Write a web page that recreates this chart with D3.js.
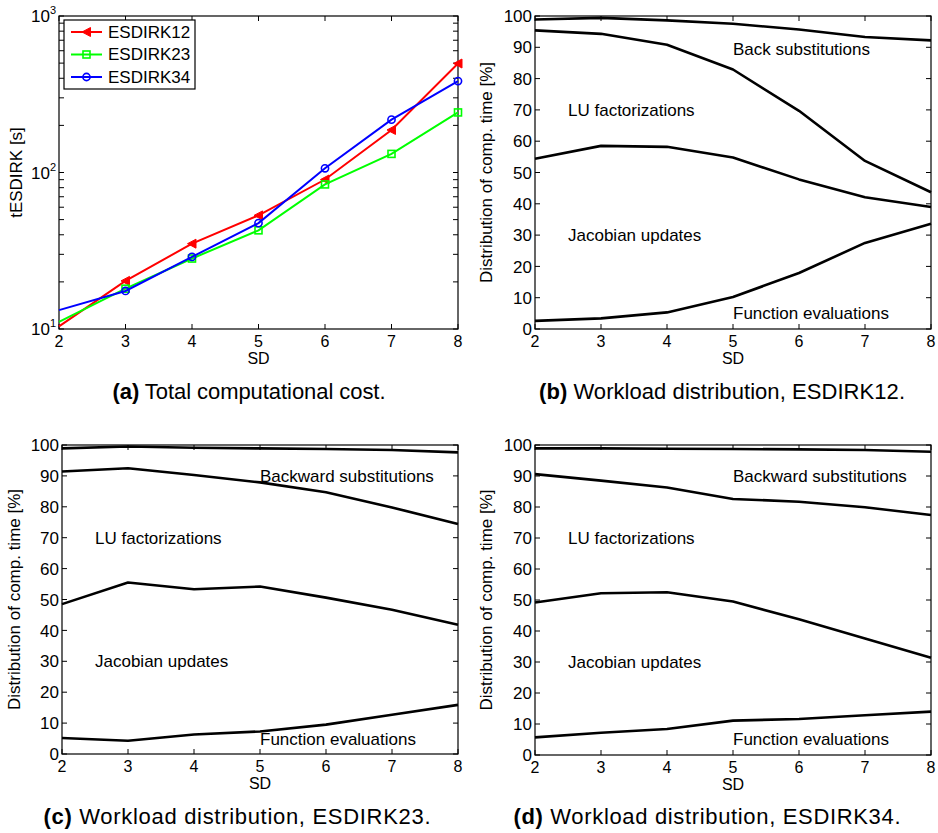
<!DOCTYPE html>
<html>
<head>
<meta charset="utf-8">
<script src="https://cdn.jsdelivr.net/npm/d3@7"></script>
<style>
  body { margin: 0; background: #fff; }
  text { font-family: "Liberation Sans", Arial, sans-serif; }
</style>
</head>
<body>
<svg id="fig" width="938" height="833"></svg>
<script>
const sdVals = [2, 3, 4, 5, 6, 7, 8];

// panel (a), total cost in seconds
const esdirk12 = [10.4, 20.3, 35.1, 53.2, 90.2, 187, 497];
const esdirk23 = [11.1, 18.1, 28.2, 42.7, 83.9, 131.5, 242];
const esdirk34 = [13.2, 17.5, 28.9, 47.5, 106.4, 217.6, 384];

// workload boundaries (cumulative %), bottom to top
const w12_fun = [2.6, 3.4, 5.3, 10.2, 17.9, 27.5, 33.6];
const w12_jac = [54.4, 58.5, 58.2, 54.8, 47.8, 42.1, 39.0];
const w12_lu = [95.4, 94.3, 90.8, 82.9, 69.7, 53.7, 43.7];
const w12_back = [98.9, 99.4, 98.6, 97.5, 95.7, 93.3, 92.2];

const w23_fun = [5.2, 4.3, 6.3, 7.3, 9.5, 12.7, 15.9];
const w23_jac = [48.5, 55.5, 53.3, 54.2, 50.6, 46.7, 41.8];
const w23_lu = [91.4, 92.5, 90.3, 87.9, 84.7, 79.8, 74.4];
const w23_back = [98.9, 99.5, 99.1, 98.9, 98.7, 98.4, 97.6];

const w34_fun = [5.7, 7.2, 8.4, 11.1, 11.6, 12.8, 14.0];
const w34_jac = [49.2, 52.2, 52.5, 49.5, 43.8, 37.6, 31.4];
const w34_lu = [90.6, 88.5, 86.3, 82.6, 81.7, 79.9, 77.4];
const w34_back = [98.9, 98.9, 98.8, 98.7, 98.6, 98.4, 97.8];

const pctTicks = [0, 10, 20, 30, 40, 50, 60, 70, 80, 90, 100];
const logMajor = [10, 100, 1000];
const logMinor = [20, 30, 40, 50, 60, 70, 80, 90, 200, 300, 400, 500, 600, 700, 800, 900];

const svg = d3.select("#fig");
svg.append("rect").attr("width", 938).attr("height", 833).attr("fill", "#fff");

const fs = 17;
const tickLen = 5;

function drawFrame(g, x, y, box, yTicksList) {
  // x ticks top and bottom, pointing inward
  sdVals.forEach((v) => {
    g.append("line").attr("x1", x(v)).attr("x2", x(v))
      .attr("y1", box.bottom).attr("y2", box.bottom - tickLen).attr("stroke", "#000");
    g.append("line").attr("x1", x(v)).attr("x2", x(v))
      .attr("y1", box.top).attr("y2", box.top + tickLen).attr("stroke", "#000");
    g.append("text").attr("x", x(v)).attr("y", box.bottom + 18)
      .attr("text-anchor", "middle").attr("font-size", 16).text(v);
  });
  yTicksList.forEach((v) => {
    g.append("line").attr("x1", box.left).attr("x2", box.left + tickLen)
      .attr("y1", y(v)).attr("y2", y(v)).attr("stroke", "#000");
    g.append("line").attr("x1", box.right).attr("x2", box.right - tickLen)
      .attr("y1", y(v)).attr("y2", y(v)).attr("stroke", "#000");
  });
  g.append("rect")
    .attr("x", box.left).attr("y", box.top)
    .attr("width", box.right - box.left).attr("height", box.bottom - box.top)
    .attr("fill", "none").attr("stroke", "#000").attr("stroke-width", 1.2);
  g.append("text").attr("x", (box.left + box.right) / 2).attr("y", box.bottom + 35)
    .attr("text-anchor", "middle").attr("font-size", 16).text("SD");
}

function drawCaption(cx, cy, tag, rest, len) {
  const t = svg.append("text").attr("x", cx).attr("y", cy)
    .attr("text-anchor", "middle").attr("font-size", 22)
    .attr("textLength", len).attr("lengthAdjust", "spacing");
  t.append("tspan").attr("font-weight", "bold").text(tag);
  t.append("tspan").text(" " + rest);
}

function drawCost() {
  const box = { left: 59, right: 458, top: 16, bottom: 329 };
  const g = svg.append("g");
  const x = d3.scaleLinear().domain([2, 8]).range([box.left, box.right]);
  const y = d3.scaleLog().domain([10, 1000]).range([box.bottom, box.top]);

  drawFrame(g, x, y, box, logMajor.concat(logMinor));

  logMajor.forEach((v) => {
    const t = g.append("text").attr("x", box.left - 3).attr("y", y(v) + 6)
      .attr("text-anchor", "end").attr("font-size", fs);
    t.append("tspan").text("10");
    t.append("tspan").attr("font-size", 11).attr("dy", -8).text(Math.log10(v));
  });

  g.append("text")
    .attr("transform", `translate(22, ${(box.top + box.bottom) / 2}) rotate(-90)`)
    .attr("text-anchor", "middle").attr("font-size", fs).text("tESDIRK [s]");

  const series = [
    { name: "ESDIRK12", vals: esdirk12, color: "#ff0000", marker: "tri" },
    { name: "ESDIRK23", vals: esdirk23, color: "#00ff00", marker: "sq" },
    { name: "ESDIRK34", vals: esdirk34, color: "#0000ff", marker: "circ" }
  ];

  const line = d3.line().x((d) => x(d[0])).y((d) => y(d[1]));

  function marker(sel, kind, color) {
    if (kind === "tri") {
      sel.append("path").attr("d", "M-4.5,0L4,-4.5L4,4.5Z")
        .attr("fill", color).attr("stroke", color).attr("stroke-width", 1);
    } else if (kind === "sq") {
      sel.append("rect").attr("x", -3.5).attr("y", -3.5).attr("width", 7).attr("height", 7)
        .attr("fill", "none").attr("stroke", color).attr("stroke-width", 1.6);
    } else {
      sel.append("circle").attr("r", 3.6)
        .attr("fill", "none").attr("stroke", color).attr("stroke-width", 1.6);
    }
  }

  series.forEach((s) => {
    const pts = sdVals.map((v, i) => [v, s.vals[i]]);
    g.append("path").datum(pts).attr("d", line)
      .attr("fill", "none").attr("stroke", s.color).attr("stroke-width", 2);
    pts.forEach((p, i) => {
      if (i === 0) return;
      const m = g.append("g").attr("transform", `translate(${x(p[0])}, ${y(p[1])})`);
      marker(m, s.marker, s.color);
    });
  });

  // legend
  const lg = g.append("g");
  lg.append("rect").attr("x", 64).attr("y", 20).attr("width", 131).attr("height", 69)
    .attr("fill", "#fff").attr("stroke", "#000").attr("stroke-width", 1.2);
  series.forEach((s, i) => {
    const ly = 32 + i * 22.5;
    lg.append("line").attr("x1", 71).attr("x2", 102).attr("y1", ly).attr("y2", ly)
      .attr("stroke", s.color).attr("stroke-width", 2);
    marker(lg.append("g").attr("transform", `translate(86.5, ${ly})`), s.marker, s.color);
    lg.append("text").attr("x", 108).attr("y", ly).attr("dy", "0.35em")
      .attr("font-size", fs).text(s.name);
  });

  drawCaption(249, 399, "(a)", "Total computational cost.", 273);
}

function drawWorkload(box, lines, labels, ylabelX, caption) {
  const g = svg.append("g");
  const x = d3.scaleLinear().domain([2, 8]).range([box.left, box.right]);
  const y = d3.scaleLinear().domain([0, 100]).range([box.bottom, box.top]);

  drawFrame(g, x, y, box, pctTicks);

  pctTicks.forEach((v) => {
    g.append("text").attr("x", box.left - 3).attr("y", y(v)).attr("dy", "0.36em")
      .attr("text-anchor", "end").attr("font-size", fs).text(v);
  });

  g.append("text")
    .attr("transform", `translate(${ylabelX}, ${(box.top + box.bottom) / 2}) rotate(-90)`)
    .attr("text-anchor", "middle").attr("font-size", fs).text("Distribution of comp. time [%]");

  const line = d3.line().x((d, i) => x(sdVals[i])).y((d) => y(d));
  lines.forEach((vals) => {
    g.append("path").datum(vals).attr("d", line)
      .attr("fill", "none").attr("stroke", "#000").attr("stroke-width", 2.6)
      .attr("stroke-linejoin", "round");
  });

  labels.forEach((lb) => {
    g.append("text").attr("x", x(lb.sd)).attr("y", y(lb.pct)).attr("dy", "0.35em")
      .attr("font-size", fs).text(lb.text);
  });

  drawCaption(caption.cx, caption.cy, caption.tag, caption.rest, caption.len);
}

drawCost();

drawWorkload(
  { left: 535, right: 931, top: 16, bottom: 329 },
  [w12_fun, w12_jac, w12_lu, w12_back],
  [
    { sd: 5, pct: 89.5, text: "Back substitutions" },
    { sd: 2.5, pct: 70, text: "LU factorizations" },
    { sd: 2.5, pct: 30, text: "Jacobian updates" },
    { sd: 5, pct: 5, text: "Function evaluations" }
  ],
  492,
  { cx: 722, cy: 399, tag: "(b)", rest: "Workload distribution, ESDIRK12.", len: 366 }
);

drawWorkload(
  { left: 62, right: 458, top: 445, bottom: 754 },
  [w23_fun, w23_jac, w23_lu, w23_back],
  [
    { sd: 5, pct: 90, text: "Backward substitutions" },
    { sd: 2.5, pct: 70, text: "LU factorizations" },
    { sd: 2.5, pct: 30, text: "Jacobian updates" },
    { sd: 5, pct: 5, text: "Function evaluations" }
  ],
  20,
  { cx: 237, cy: 824, tag: "(c)", rest: "Workload distribution, ESDIRK23.", len: 387 }
);

drawWorkload(
  { left: 535, right: 931, top: 445, bottom: 755 },
  [w34_fun, w34_jac, w34_lu, w34_back],
  [
    { sd: 5, pct: 90, text: "Backward substitutions" },
    { sd: 2.5, pct: 70, text: "LU factorizations" },
    { sd: 2.5, pct: 30, text: "Jacobian updates" },
    { sd: 5, pct: 5, text: "Function evaluations" }
  ],
  492,
  { cx: 707, cy: 824, tag: "(d)", rest: "Workload distribution, ESDIRK34.", len: 387 }
);
</script>
</body>
</html>
